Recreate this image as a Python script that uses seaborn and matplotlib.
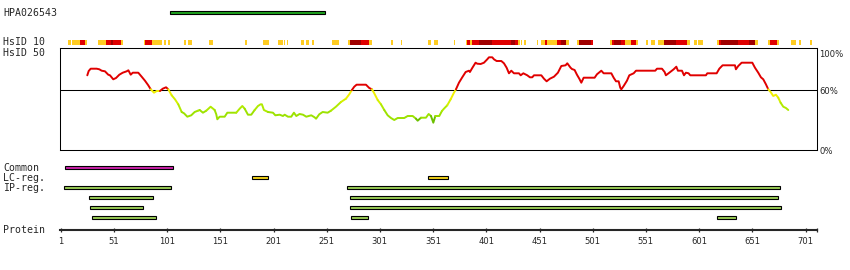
import matplotlib
matplotlib.use("Agg")
import matplotlib.pyplot as plt
import numpy as np
import pandas as pd
import seaborn as sns

# ---------------- data ----------------
protein_len = 711
antigen_label = "HPA026543"
antigen_start, antigen_end = 104, 249

# HsID 10 row: residue segments, level 1=low (orange), 2=mid (red), 3=high (dark red)
hs_start = [8, 12, 19, 24, 36, 44, 48, 50, 58, 79, 80, 87, 98, 102, 117, 121, 140, 174, 191, 205,
            211, 214, 227, 232, 237, 256, 271, 273, 283, 291, 311, 321, 346, 352, 371, 382, 383,
            386, 388, 394, 406, 424, 428, 431, 434, 436, 449, 452, 456, 458, 467, 471, 476, 486,
            488, 499, 517, 519, 521, 528, 531, 537, 542, 551, 556, 562, 568, 579, 590, 596, 600,
            618, 620, 622, 638, 648, 654, 666, 668, 674, 687, 695, 705]
hs_end = [11, 19, 24, 26, 44, 48, 50, 58, 60, 80, 87, 96, 100, 104, 119, 124, 144, 176, 197, 210,
          212, 215, 230, 234, 239, 263, 273, 283, 291, 294, 313, 322, 349, 356, 372, 383, 386,
          388, 394, 406, 424, 428, 431, 433, 435, 438, 450, 456, 458, 467, 471, 476, 479, 488,
          499, 501, 519, 521, 528, 531, 537, 542, 544, 553, 560, 568, 579, 590, 592, 599, 605,
          620, 622, 638, 648, 654, 656, 668, 674, 676, 692, 697, 707]
hs_level = [1, 1, 2, 1, 1, 2, 3, 2, 1, 1, 2, 1, 1, 1, 1, 1, 1, 1, 1, 1,
            1, 1, 1, 1, 1, 1, 1, 3, 2, 1, 1, 1, 1, 1, 1, 1, 2,
            1, 2, 3, 2, 3, 2, 1, 1, 1, 1, 1, 2, 1, 2, 3, 1, 1,
            3, 2, 1, 2, 3, 2, 1, 2, 1, 1, 1, 1, 3, 2, 1, 1, 1,
            1, 2, 3, 2, 3, 1, 1, 2, 1, 1, 1, 1]

# HsID 50 identity curve (residue, percent)
curve_res = [26.0, 27.3, 29.2, 31.7, 34.8, 37.3, 39.5, 42.6, 45.7, 47.3, 50.4, 53.0, 56.1, 59.3,
             63.0, 64.6, 66.8, 68.7, 73.9, 77.1, 80.2, 83.3, 85.6, 88.7, 91.2, 94.3, 96.9, 100.0,
             102.1, 105.3, 108.4, 111.5, 114.7, 116.9, 120.0, 123.7, 126.9, 130.0, 131.6, 134.7,
             137.8, 141.9, 145.7, 147.2, 148.2, 150.4, 155.1, 157.6, 166.0, 169.2, 171.7, 173.9,
             177.0, 180.1, 183.3, 186.4, 188.9, 190.1, 192.0, 195.8, 200.5, 202.7, 206.8, 209.9,
             211.5, 214.6, 217.7, 220.2, 222.4, 225.5, 228.7, 231.8, 236.5, 239.6, 241.0, 244.0,
             247.2, 251.9, 255.0, 259.7, 264.4, 269.1, 272.2, 274.7, 276.9, 279.1, 287.9, 291.0,
             293.5, 295.7, 298.9, 302.0, 305.1, 308.3, 311.4, 314.5, 317.7, 323.9, 327.1, 331.8,
             334.9, 336.5, 339.6, 344.3, 346.8, 349.0, 351.2, 353.1, 356.8, 359.3, 361.2, 364.3,
             367.5, 370.6, 372.5, 375.3, 378.4, 381.6, 384.7, 385.6, 387.8, 390.9, 392.5, 395.7,
             398.8, 401.9, 403.5, 406.6, 408.2, 410.7, 415.1, 417.6, 420.1, 422.3, 424.5, 427.0,
             431.7, 433.3, 435.8, 439.5, 442.0, 444.2, 445.8, 452.7, 455.2, 457.7, 460.8, 464.6,
             468.3, 471.5, 475.5, 477.1, 480.2, 481.5, 484.0, 486.2, 488.4, 490.3, 492.5, 502.8,
             505.0, 509.1, 511.3, 518.5, 520.7, 522.9, 525.4, 526.9, 527.9, 530.1, 533.2, 535.4,
             539.5, 541.7, 559.8, 561.4, 566.1, 568.6, 569.8, 573.0, 577.1, 579.6, 581.1, 584.9,
             586.8, 588.6, 591.1, 592.7, 607.4, 608.7, 617.5, 620.0, 623.1, 634.7, 635.6, 637.8,
             641.0, 651.0, 653.5, 656.6, 659.1, 661.3, 663.8, 666.0, 668.2, 670.7, 673.2, 675.4,
             677.6, 680.1, 682.6, 684.8]
curve_pct = [74.7, 79.0, 81.3, 81.3, 81.3, 80.7, 79.3, 78.7, 75.3, 74.7, 70.7, 72.0, 75.3, 77.3,
             78.7, 79.7, 75.3, 77.3, 77.3, 73.3, 69.3, 64.7, 60.7, 57.3, 59.0, 59.0, 61.3, 62.7,
             60.7, 54.7, 50.7, 45.7, 38.0, 36.7, 33.3, 34.7, 38.0, 39.3, 40.0, 37.3,
             39.3, 43.3, 40.0, 35.7, 30.7, 33.3, 33.3, 37.3, 37.3, 41.3, 44.0, 41.3,
             35.3, 35.3, 40.0, 44.0, 45.7, 45.7, 40.0, 38.0, 37.3, 34.7, 35.3, 34.0,
             35.3, 33.3, 33.3, 37.3, 34.0, 36.0, 35.3, 33.3, 34.7, 32.7, 31.3, 35.7,
             38.0, 37.3, 39.3, 43.3, 48.0, 51.3, 55.7, 60.0, 63.3, 65.3, 65.3, 62.0,
             60.7, 56.7, 50.0, 45.7, 40.0, 34.7, 32.0, 30.0, 32.0, 32.0, 34.0, 34.0,
             31.3, 29.3, 32.3, 32.3, 36.0, 34.0, 27.3, 34.0, 34.0, 39.0, 41.3, 44.7,
             50.7, 57.3, 60.7, 67.3, 72.7, 78.0, 79.3, 78.0, 82.0, 87.3, 86.3, 86.0,
             87.3, 90.7, 92.7, 92.7, 90.7, 89.0, 89.0, 86.7, 82.3, 76.7, 79.3, 76.7,
             76.7, 74.7, 76.7, 74.7, 72.7, 72.7, 74.7, 74.7, 71.3, 68.7, 71.3, 73.3,
             77.3, 84.0, 84.7, 86.7, 82.3, 81.0, 80.0, 75.3, 71.3, 67.3, 72.3, 72.3,
             75.7, 79.3, 76.7, 76.7, 72.3, 68.7, 68.7, 62.3, 60.7, 64.0, 69.3, 74.7,
             76.7, 79.3, 79.3, 81.3, 81.3, 78.0, 74.7, 77.3, 80.7, 83.3, 79.3, 79.3,
             74.7, 77.3, 76.7, 74.7, 74.7, 76.7, 76.7, 81.3, 84.7, 84.7, 80.7, 84.0,
             87.3, 87.3, 82.3, 77.3, 72.7, 70.7, 65.7, 60.7, 58.0, 54.0, 55.3, 52.3,
             47.3, 43.3, 42.0, 40.0]

# feature tracks: (row, start, end)
common_start, common_end = [5], [107]
lc_start, lc_end = [181, 346], [196, 365]
ip_row = [0, 0, 1, 1, 2, 2, 3, 3, 3]
ip_start = [4, 270, 28, 273, 29, 273, 30, 274, 618]
ip_end = [105, 677, 88, 675, 78, 678, 91, 290, 636]

track_labels = ["Common", "LC-reg.", "IP-reg."]
tick_labels = ["1", "51", "101", "151", "201", "251", "301", "351", "401", "451",
               "501", "551", "601", "651", "701"]
pct_ticks = [0, 60, 100]
pct_labels = ["0%", "60%", "100%"]

# ---------------- style ----------------
sns.set_style("white")
plt.rcParams["font.family"] = ["DejaVu Sans"]
MONO = "DejaVu Sans Mono"

W, H = 850, 270
fig = plt.figure(figsize=(W / 100, H / 100), dpi=100)
fig.patch.set_facecolor("white")

PX0, PXR = 60.7, 1.064


def rx(px):
    return 1 + (px - PX0) / PXR


def fy(py):
    return 1 - py / H


XL = (rx(0), rx(W))

# base axes in pixel rows
base = fig.add_axes([0, 0, 1, 1])
base.set_xlim(*XL)
base.set_ylim(H, 0)
base.axis("off")
base.patch.set_alpha(0)

# antigen bar
base.barh(12.5, antigen_end - antigen_start, left=antigen_start, height=3.8,
          color="#1FA41F", edgecolor="black", linewidth=0.8)

# HsID 10 row
lvl_col = {1: "#FFCC22", 2: "#E00000", 3: "#A00000"}
for s, e, l in zip(hs_start, hs_end, hs_level):
    base.barh(42.3, e - s, left=s, height=4.7, color=lvl_col[l], linewidth=0)

# tracks
base.barh(167.3, np.array(common_end) - np.array(common_start), left=common_start,
          height=3.0, color="#CC22AA", edgecolor="black", linewidth=0.8)
base.barh(177.3, np.array(lc_end) - np.array(lc_start), left=lc_start,
          height=3.0, color="#F2D21A", edgecolor="black", linewidth=0.8)
base.barh(187.3 + 10 * np.array(ip_row), np.array(ip_end) - np.array(ip_start), left=ip_start,
          height=3.0, color="#9ACD55", edgecolor="black", linewidth=0.8)

# left labels
for txt, py in [(antigen_label, 12.7), ("HsID 10", 42.3), ("HsID 50", 52.7),
                (track_labels[0], 167.6), (track_labels[1], 177.6), (track_labels[2], 187.6),
                ("Protein", 229.8)]:
    fig.text(3 / W, fy(py), txt, family=MONO, fontsize=7.1, ha="left", va="center")

# ---------------- identity curve ----------------
L, R, T, B = 60.3, 817.3, 48.3, 150.0
ax = fig.add_axes([L / W, fy(B), (R - L) / W, (B - T) / H])
ax.set_xlim(rx(L), rx(R))
ax.set_ylim(0, (B - T))
ax.patch.set_alpha(0)
for sp in ax.spines.values():
    sp.set_linewidth(0.75)
    sp.set_color("black")
ax.set_xticks([])
ax.yaxis.tick_right()
ax.set_yticks(pct_ticks)
ax.set_yticklabels(pct_labels)
ax.tick_params(axis="y", length=0, pad=1.5, labelsize=6.1)
ax.get_yticklabels()[2].set_va("top")
ax.axhline(60, color="black", lw=0.75, zorder=1)


def band(v):
    if v >= 60:
        return "#E00000"
    if v >= 53:
        return "#F0F000"
    if v >= 46:
        return "#D4F000"
    if v >= 39:
        return "#B0EA00"
    if v >= 31:
        return "#9CE200"
    return "#6CC000"


xs = np.array(curve_res)
ys = np.array(curve_pct)
cols = [band((ys[i] + ys[i + 1]) / 2) for i in range(len(xs) - 1)]
i = 0
while i < len(cols):
    j = i
    while j + 1 < len(cols) and cols[j + 1] == cols[i]:
        j += 1
    sns.lineplot(x=xs[i:j + 2], y=ys[i:j + 2], color=cols[i], lw=1.4, ax=ax,
                 sort=False, estimator=None, legend=False, zorder=3)
    i = j + 1
ax.set_xlabel("")
ax.set_ylabel("")

# ---------------- protein ruler ----------------
ry = 230.3
rax = fig.add_axes([0, fy(ry), 1, 0.02])
rax.set_xlim(*XL)
rax.patch.set_alpha(0)
for k in ["top", "left", "right"]:
    rax.spines[k].set_visible(False)
rax.spines["bottom"].set_linewidth(1.5)
rax.spines["bottom"].set_bounds(0.6, protein_len + 0.5)
tick_pos = [int(t) for t in tick_labels] + [protein_len + 0.5]
rax.set_xticks(tick_pos)
rax.set_xticklabels(tick_labels + [""])
rax.set_yticks([])
rax.tick_params(axis="x", direction="inout", length=3, width=0.9, pad=3.2,
                labelsize=6.1, bottom=True)

fig.savefig("out.png", dpi=100, facecolor="white")
